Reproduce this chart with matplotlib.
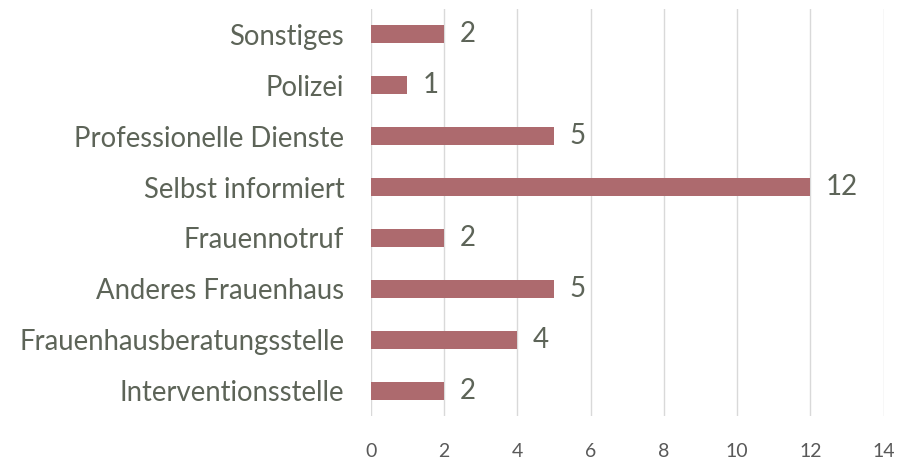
import matplotlib
matplotlib.use("Agg")
import matplotlib.pyplot as plt

categories = ["Interventionsstelle", "Frauenhausberatungsstelle", "Anderes Frauenhaus",
              "Frauennotruf", "Selbst informiert", "Professionelle Dienste",
              "Polizei", "Sonstiges"]
values = [2, 4, 5, 2, 12, 5, 1, 2]
xticks = [0, 2, 4, 6, 8, 10, 12, 14]

plt.rcParams['font.family'] = ['Lato', 'DejaVu Sans']
label_color = "#5d6458"

fig = plt.figure(figsize=(9.13, 4.58), dpi=100)
ax = fig.add_axes([0.406, 0.091, 0.562, 0.890])

ypos = list(range(len(categories)))
ax.barh(ypos, values, height=0.35, color="#ad6a6e", zorder=3)
for y, v in zip(ypos, values):
  ax.text(v + 0.42, y, str(v), va="center", ha="left", fontsize=20, color=label_color)

ax.set_xlim(0, 14)
ax.set_ylim(-0.5, len(categories) - 0.5)
ax.set_xticks(xticks)
ax.set_yticks(ypos)
ax.set_yticklabels(categories, fontsize=19.8, color=label_color)
ax.tick_params(axis="x", labelsize=14, colors="#595959", length=0, pad=19)
ax.tick_params(axis="y", length=0, pad=19)
ax.grid(axis="x", color="#d9d9d9", linewidth=1, zorder=0)
for s in ax.spines.values():
  s.set_visible(False)

fig.savefig("out.png", dpi=100)
